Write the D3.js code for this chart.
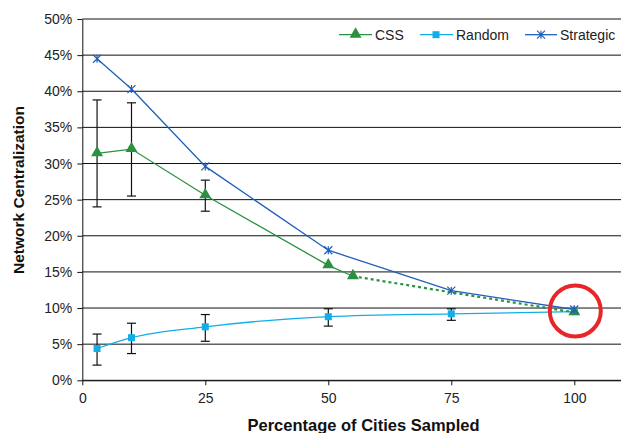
<!DOCTYPE html>
<html>
<head>
<meta charset="utf-8">
<script src="https://cdn.jsdelivr.net/npm/d3@7"></script>
<style>
  html, body { margin: 0; padding: 0; background: #fff; }
  svg { display: block; font-family: "Liberation Sans", Arial, sans-serif; }
</style>
</head>
<body>
<svg id="chart" width="621" height="433"></svg>
<script>
// Sampling percentages and measured centralization (%)
const cssX = [3, 10, 25, 50, 55, 100];
const cssY = [31.4, 32.0, 25.6, 15.9, 14.4, 9.4];
const cssErrX = [3, 10, 25];
const cssErrLo = [24.0, 25.5, 23.4];
const cssErrHi = [38.8, 38.4, 27.7];

const randomX = [3, 10, 25, 50, 75, 100];
const randomY = [4.4, 5.9, 7.4, 8.8, 9.2, 9.5];
const randomErrLo = [2.1, 3.7, 5.4, 7.5, 8.3];
const randomErrHi = [6.4, 7.9, 9.1, 9.9, 9.9];

const strategicX = [3, 10, 25, 50, 75, 100];
const strategicY = [44.5, 40.3, 29.6, 18.0, 12.4, 9.8];

const yTicks = [0, 5, 10, 15, 20, 25, 30, 35, 40, 45, 50];
const xTicks = [0, 25, 50, 75, 100];

const svg = d3.select("#chart");
const plotLeft = 82.3, plotTop = 19, plotBottom = 380.3;
const x = d3.scaleLinear().domain([0, 110]).range([plotLeft, plotLeft + 4.92 * 110]);
const y = d3.scaleLinear().domain([0, 50]).range([plotBottom, plotTop]);

const COL_CSS = "#2a9140", COL_RAND = "#12aee8", COL_STRAT = "#1f5fbb";

// Horizontal gridlines
svg.append("g").selectAll("line").data(yTicks).join("line")
  .attr("x1", plotLeft).attr("x2", 621)
  .attr("y1", d => y(d)).attr("y2", d => y(d))
  .attr("stroke", "#111").attr("stroke-width", 1);

// Y axis
const yAxis = svg.append("g").attr("transform", `translate(${plotLeft},0)`)
  .call(d3.axisLeft(y).tickValues(yTicks).tickFormat(d => d + "%").tickSize(5).tickSizeOuter(0));
yAxis.select(".domain").attr("stroke", "#111");
yAxis.selectAll(".tick line").attr("stroke", "#111");
yAxis.selectAll("text").attr("font-size", 14).attr("fill", "#222").attr("x", -10)
  .attr("font-family", "Liberation Sans, Arial, sans-serif");

// X axis
const xAxis = svg.append("g").attr("transform", `translate(0,${plotBottom})`)
  .call(d3.axisBottom(x).tickValues(xTicks).tickSize(5).tickSizeOuter(0));
xAxis.select(".domain").attr("stroke", "#111");
xAxis.selectAll(".tick line").attr("stroke", "#111");
xAxis.selectAll("text").attr("font-size", 14).attr("fill", "#222").attr("dy", "1.05em")
  .attr("font-family", "Liberation Sans, Arial, sans-serif");

// Axis titles
svg.append("text").attr("x", 363.5).attr("y", 431)
  .attr("text-anchor", "middle").attr("font-size", 16.5).attr("font-weight", "bold")
  .attr("fill", "#111").text("Percentage of Cities Sampled");
svg.append("text").attr("transform", "translate(23.5,190) rotate(-90)")
  .attr("text-anchor", "middle").attr("font-size", 15.5).attr("font-weight", "bold")
  .attr("fill", "#111").text("Network Centralization");

const straight = d3.line().x(d => x(d[0])).y(d => y(d[1]));
const smooth = d3.line().x(d => x(d[0])).y(d => y(d[1])).curve(d3.curveMonotoneX);
const zip = (a, b) => a.map((v, i) => [v, b[i]]);

// Error bars
function errorBars(xs, lo, hi) {
  const g = svg.append("g").attr("stroke", "#111").attr("stroke-width", 1.2);
  xs.forEach((xv, i) => {
    g.append("line").attr("x1", x(xv)).attr("x2", x(xv)).attr("y1", y(lo[i])).attr("y2", y(hi[i]));
    g.append("line").attr("x1", x(xv) - 4.5).attr("x2", x(xv) + 4.5).attr("y1", y(lo[i])).attr("y2", y(lo[i]));
    g.append("line").attr("x1", x(xv) - 4.5).attr("x2", x(xv) + 4.5).attr("y1", y(hi[i])).attr("y2", y(hi[i]));
  });
}
errorBars(cssErrX, cssErrLo, cssErrHi);
errorBars(randomX.slice(0, 5), randomErrLo, randomErrHi);

// Random series
svg.append("path").attr("d", smooth(zip(randomX, randomY)))
  .attr("fill", "none").attr("stroke", COL_RAND).attr("stroke-width", 1.3);
svg.append("g").selectAll("rect").data(zip(randomX, randomY)).join("rect")
  .attr("x", d => x(d[0]) - 3.5).attr("y", d => y(d[1]) - 3.5)
  .attr("width", 7).attr("height", 7).attr("fill", COL_RAND);

// CSS series: solid through the measured points, dotted to the full sample
const cssPts = zip(cssX, cssY);
svg.append("path").attr("d", straight(cssPts.slice(0, 5)))
  .attr("fill", "none").attr("stroke", COL_CSS).attr("stroke-width", 1.3);
svg.append("path").attr("d", straight(cssPts.slice(4)))
  .attr("fill", "none").attr("stroke", COL_CSS).attr("stroke-width", 2.2)
  .attr("stroke-dasharray", "3,3");

// Strategic series
svg.append("path").attr("d", straight(zip(strategicX, strategicY)))
  .attr("fill", "none").attr("stroke", COL_STRAT).attr("stroke-width", 1.3);

const tri = d3.symbol().type(d3.symbolTriangle).size(62);
svg.append("g").selectAll("path").data(cssPts).join("path")
  .attr("d", tri).attr("transform", d => `translate(${x(d[0])},${y(d[1]) - 0.5})`)
  .attr("fill", COL_CSS);

function star(g, cx, cy, col) {
  const s = 4;
  g.append("path")
    .attr("d", `M${cx - s},${cy - s}L${cx + s},${cy + s}M${cx - s},${cy + s}L${cx + s},${cy - s}M${cx},${cy - s}L${cx},${cy + s}`)
    .attr("stroke", col).attr("stroke-width", 1.2).attr("fill", "none");
}
const sg = svg.append("g");
zip(strategicX, strategicY).forEach(d => star(sg, x(d[0]), y(d[1]), COL_STRAT));

// Highlight of the full-sample convergence point
svg.append("circle").attr("cx", x(100) + 1).attr("cy", y(9.6))
  .attr("r", 25.5).attr("fill", "none").attr("stroke", "#e8262a").attr("stroke-width", 4);

// Legend
const ly = 34.7;
const leg = svg.append("g").attr("font-size", 14).attr("fill", "#222");
leg.append("line").attr("x1", 339).attr("x2", 372).attr("y1", ly).attr("y2", ly).attr("stroke", COL_CSS).attr("stroke-width", 1.3);
leg.append("path").attr("d", tri).attr("transform", `translate(355.6,${ly - 0.5})`).attr("fill", COL_CSS);
leg.append("text").attr("x", 375).attr("y", ly + 5).text("CSS");
leg.append("line").attr("x1", 420).attr("x2", 453).attr("y1", ly).attr("y2", ly).attr("stroke", COL_RAND).attr("stroke-width", 1.3);
leg.append("rect").attr("x", 432.5).attr("y", ly - 3.5).attr("width", 7).attr("height", 7).attr("fill", COL_RAND);
leg.append("text").attr("x", 456).attr("y", ly + 5).text("Random");
leg.append("line").attr("x1", 525).attr("x2", 557).attr("y1", ly).attr("y2", ly).attr("stroke", COL_STRAT).attr("stroke-width", 1.3);
star(leg, 541, ly, COL_STRAT);
leg.append("text").attr("x", 560).attr("y", ly + 5).text("Strategic");
</script>
</body>
</html>
